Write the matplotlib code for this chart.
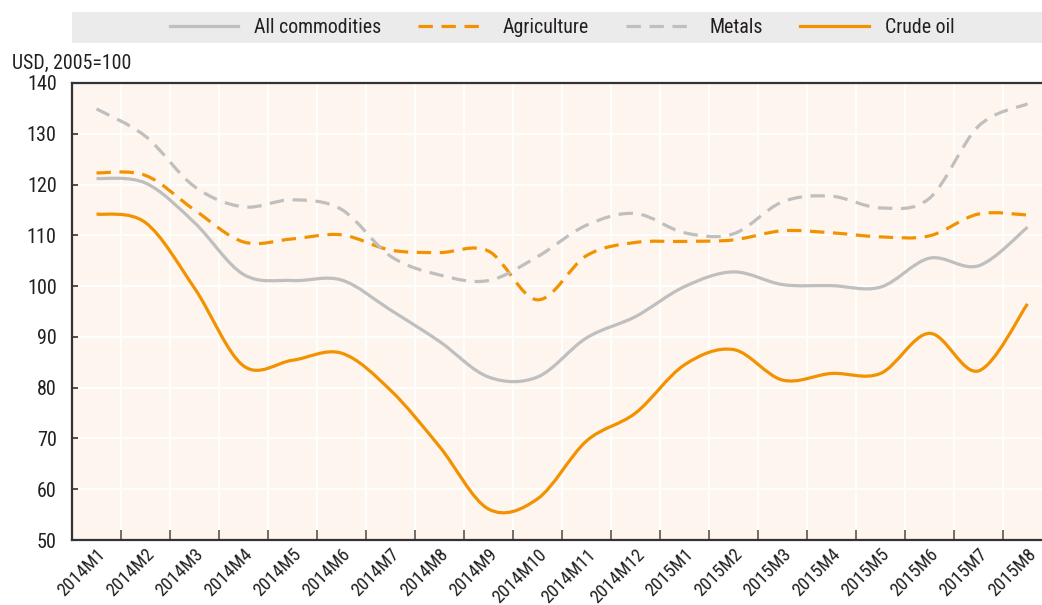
import numpy as np
import matplotlib
matplotlib.use("Agg")
import matplotlib.pyplot as plt
from matplotlib.path import Path
from matplotlib.patches import PathPatch, Rectangle
from matplotlib.lines import Line2D

plt.rcParams['font.family'] = ['Liberation Sans Narrow', 'DejaVu Sans Condensed',
                               'Roboto Condensed', 'Liberation Sans', 'DejaVu Sans']
plt.rcParams['font.stretch'] = 'condensed'

months = ["2014M1", "2014M2", "2014M3", "2014M4", "2014M5", "2014M6", "2014M7",
          "2014M8", "2014M9", "2014M10", "2014M11", "2014M12", "2015M1", "2015M2",
          "2015M3", "2015M4", "2015M5", "2015M6", "2015M7", "2015M8"]

all_commodities = [121.2, 120.3, 112.5, 102.3, 101.1, 101.2, 95.3, 89.1, 82.1, 82.1,
                   89.8, 94.0, 99.9, 102.8, 100.3, 100.1, 99.8, 105.5, 104.0, 111.6]
agriculture = [122.3, 121.8, 115.0, 108.7, 109.3, 110.1, 107.1, 106.6, 106.9, 97.3,
               106.0, 108.6, 108.8, 109.1, 110.9, 110.5, 109.7, 109.9, 114.2, 114.0]
metals = [134.9, 129.5, 119.6, 115.6, 117.0, 115.1, 105.9, 102.2, 101.1, 105.8,
          112.0, 114.3, 110.5, 110.3, 116.6, 117.7, 115.4, 117.3, 131.5, 135.9]
crude_oil = [114.2, 112.5, 99.6, 84.3, 85.4, 86.8, 79.5, 68.4, 56.1, 58.1,
             69.5, 75.0, 84.5, 87.5, 81.5, 82.8, 82.8, 90.7, 83.3, 96.5]

ORANGE = "#F39200"
GREY = "#BFBFBF"
TEXT = "#231F20"


def smooth_path(values):
    # smoothed line through the monthly points (Catmull-Rom as cubic Bezier)
    x = np.arange(len(values), dtype=float)
    p = np.column_stack([x, np.asarray(values, dtype=float)])
    ext = np.vstack([p[0], p, p[-1]])
    verts = [p[0]]
    codes = [Path.MOVETO]
    for i in range(len(p) - 1):
        p0, p1, p2, p3 = ext[i], ext[i + 1], ext[i + 2], ext[i + 3]
        verts += [p1 + (p2 - p0) / 6.0, p2 - (p3 - p1) / 6.0, p2]
        codes += [Path.CURVE4] * 3
    return Path(verts, codes)


fig = plt.figure(figsize=(10.42, 6.05), dpi=100)
ax = fig.add_axes([72 / 1042, 65 / 605, 980 / 1042, 457 / 605])
ax.set_facecolor("#FDF5EE")

series = [
    ("All commodities", all_commodities, GREY, "-"),
    ("Agriculture", agriculture, ORANGE, (0, (4.5, 2.7))),
    ("Metals", metals, GREY, (0, (4.5, 2.7))),
    ("Crude oil", crude_oil, ORANGE, "-"),
]
handles = []
for name, vals, col, ls in series:
    patch = PathPatch(smooth_path(vals), fill=False, edgecolor=col, lw=2.3,
                      linestyle=ls, capstyle="butt", zorder=3)
    ax.add_patch(patch)
    handles.append(Line2D([], [], color=col, lw=2.3, linestyle=ls,
                          dash_capstyle="butt", label=name))

ax.set_xlim(-0.5, len(months) - 0.5)
ax.set_ylim(50, 140)
ax.set_yticks(np.arange(50, 141, 10))
ax.set_xticks(np.arange(len(months)))
ax.set_xticklabels(months, rotation=45, ha="right", va="top",
                   rotation_mode="anchor", fontsize=13.2, color=TEXT)
ax.set_xticks(np.arange(len(months) - 1) + 0.5, minor=True)
ax.tick_params(axis="x", which="major", length=0, pad=4)
ax.tick_params(axis="x", which="minor", direction="in", length=7,
               width=1.2, color="#555555")
ax.tick_params(axis="y", direction="in", length=4.5, width=1.2,
               color="#333333", pad=11, labelsize=14.5, labelcolor=TEXT)

ax.grid(True, axis="y", color="white", lw=1.3, zorder=1)
ax.grid(True, axis="x", which="minor", color="white", lw=1.3, zorder=1)
ax.set_axisbelow(True)
for side in ["left", "bottom", "top"]:
    ax.spines[side].set_color("#333333")
    ax.spines[side].set_linewidth(1.6)
ax.spines["right"].set_visible(False)

fig.text(12 / 1042, 1 - 63 / 605, "USD, 2005=100", fontsize=14.3, color=TEXT,
         va="center", ha="left")

fig.add_artist(Rectangle((72 / 1042, 1 - 43 / 605), 1.0, 31 / 605,
                         transform=fig.transFigure, facecolor="#EBEBEB",
                         edgecolor="none", zorder=0))
leg = ax.legend(handles=handles, loc="center", bbox_to_anchor=(0.5, 1.121),
                ncol=4, frameon=False, fontsize=14.3, handlelength=3.45,
                handletextpad=0.8, columnspacing=1.85)
for t in leg.get_texts():
    t.set_color(TEXT)

fig.savefig("out.png", dpi=100)
